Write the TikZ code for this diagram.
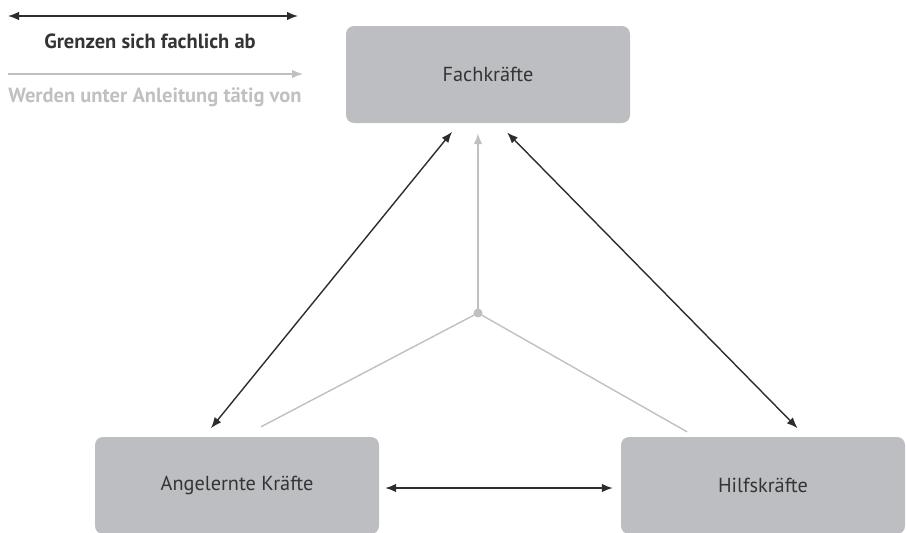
\documentclass[tikz,border=0pt]{standalone}
\usepackage{fontspec}
\setmainfont{PT Sans}
\usepackage{tikz}
\usetikzlibrary{arrows.meta, positioning}
\definecolor{boxgray}{RGB}{188,190,194}
\definecolor{linegray}{RGB}{190,192,196}
\definecolor{darkline}{RGB}{45,45,45}
\definecolor{darktext}{RGB}{52,52,52}

\begin{document}
\begin{tikzpicture}[x=1pt, y=-1pt, node distance = 411pt]

\tikzstyle{group} = [rectangle, rounded corners=8pt, minimum width=284pt, minimum height=97pt, text centered, fill=boxgray, text=darktext, font=\fontsize{20.3}{24}\selectfont]
\tikzstyle{bound} = [draw=darkline, line width=1.4pt, {Latex[length=11pt,width=8.5pt]}-{Latex[length=11pt,width=8.5pt]}]
\tikzstyle{guide} = [draw=linegray, line width=1.4pt]
\tikzstyle{legendtext} = [font=\fontsize{20.5}{24}\selectfont\bfseries]

\useasboundingbox (0,0) rectangle (906,533);

% legend
\coordinate (lg_a) at (8,16);
\coordinate (lg_b) at (298,16);
\coordinate (lg_c) at (8,74);
\coordinate (lg_d) at (303,74);
\draw[bound] (lg_a) -- (lg_b);
\node (lg_bound)[legendtext, text=darktext] at (150,41) {Grenzen sich fachlich ab};
\draw[guide, -{Latex[length=11pt,width=8.5pt]}] (lg_c) -- (lg_d);
\node (lg_guide)[legendtext, text=linegray] at (155,97) {Werden unter Anleitung tätig von};

% groups
\node (fach)[group] at (488,74.5) {Fachkräfte};
\node (ang)[group, below of = fach, xshift = -251pt] {Angelernte Kräfte};
\node (hilf)[group, right of = ang, xshift = 115pt] {Hilfskräfte};

% junction
\coordinate (junc) at (478,313);
\coordinate (ang_end) at ([xshift=24pt, yshift=10pt]ang.north);
\coordinate (hilf_end) at ([xshift=-76pt, yshift=5pt]hilf.north);

% guide lines
\draw[guide] (junc) -- (ang_end);
\draw[guide] (junc) -- (hilf_end);
\draw[guide, -{Latex[length=11pt,width=8.5pt]}, shorten >=10pt] (junc) -- ([xshift=-10pt]fach.south);
\fill[linegray] (junc) circle (4.5pt);

% arrows
\draw[bound, shorten <=11pt, shorten >=11pt] ([xshift=-29pt]fach.south) -- ([xshift=-33pt]ang.north);
\draw[bound, shorten <=13pt, shorten >=12pt] ([xshift=10pt]fach.south) -- ([xshift=43pt]hilf.north);
\draw[bound, shorten <=6pt, shorten >=8pt] ([yshift=-2.5pt]ang.east) -- ([yshift=-2.5pt]hilf.west);

\end{tikzpicture}
\end{document}
